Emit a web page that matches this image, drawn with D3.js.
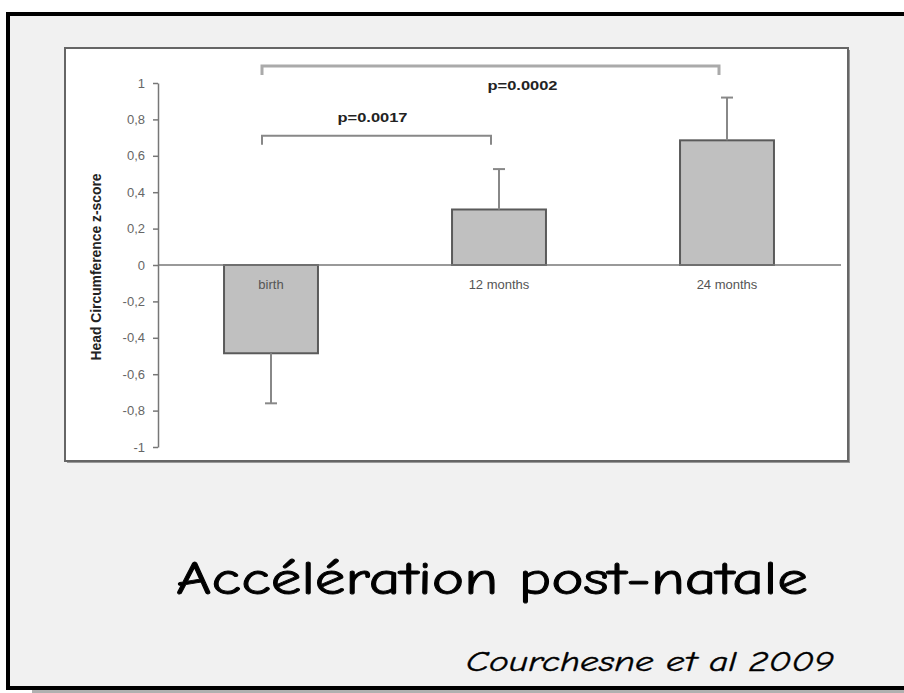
<!DOCTYPE html>
<html>
<head>
<meta charset="utf-8">
<script src="https://cdn.jsdelivr.net/npm/d3@7"></script>
<style>
  body { margin: 0; background: #fff; }
  svg { display: block; }
</style>
</head>
<body>
<svg class="chart" width="904" height="693"></svg>
<script>
// data
var categories = ["birth", "12 months", "24 months"];
var meanZ = [-0.485, 0.305, 0.685];
var errZ = [-0.275, 0.222, 0.235];   // signed, the side the whisker is drawn on
var yTicks = [1, 0.8, 0.6, 0.4, 0.2, 0, -0.2, -0.4, -0.6, -0.8, -1];
var pLabels = ["p=0.0017", "p=0.0002"];
var pFrom = [0, 0];
var pTo = [1, 2];
var pLevel = [0.71, 1.093];

var svg = d3.select("svg.chart");

// slide frame
svg.append("rect").attr("x", 32).attr("y", 688).attr("width", 880).attr("height", 5).attr("fill", "#b0b0b0");
svg.append("rect")
  .attr("x", 8).attr("y", 14).attr("width", 910).attr("height", 674)
  .attr("fill", "#f1f1f1").attr("stroke", "#000").attr("stroke-width", 4);

// chart box
svg.append("rect").attr("x", 67).attr("y", 50).attr("width", 783).attr("height", 413).attr("fill", "#9a9a9a");
svg.append("rect")
  .attr("x", 65).attr("y", 48).attr("width", 783).attr("height", 413)
  .attr("fill", "#fff").attr("stroke", "#666").attr("stroke-width", 2);

var y = d3.scaleLinear().domain([-1, 1]).range([447, 83]);
var x = d3.scaleBand().domain(categories).range([157, 841])
  .paddingInner(0.588).paddingOuter(0.294);

var fr = d3.formatLocale({decimal: ",", thousands: ".", grouping: [3], currency: ["", ""], minus: "-"});
var fmt = fr.format("~g");

var yAxis = svg.append("g")
  .attr("transform", "translate(158,0)")
  .call(d3.axisLeft(y).tickValues(yTicks).tickSize(5).tickSizeOuter(0).tickPadding(8).tickFormat(fmt));
yAxis.select(".domain").attr("stroke", "#777").attr("stroke-width", 1.5);
yAxis.selectAll(".tick line").attr("stroke", "#777").attr("stroke-width", 1.5);
yAxis.selectAll(".tick text")
  .attr("fill", "#666")
  .style("font-family", "'Liberation Sans', Arial, sans-serif")
  .style("font-size", "13px");

svg.append("text")
  .attr("transform", "translate(101,267) rotate(-90)")
  .attr("text-anchor", "middle")
  .attr("textLength", 187).attr("lengthAdjust", "spacingAndGlyphs")
  .attr("fill", "#222")
  .style("font-family", "'Liberation Sans Narrow', 'Liberation Sans', Arial, sans-serif")
  .style("font-size", "14px").style("font-weight", "bold")
  .text("Head Circumference z-score");

// bars
var bars = svg.append("g");
bars.selectAll("rect")
  .data(categories)
  .enter().append("rect")
  .attr("x", function(d) { return x(d); })
  .attr("width", x.bandwidth())
  .attr("y", function(d, i) { return y(Math.max(0, meanZ[i])); })
  .attr("height", function(d, i) { return Math.abs(y(meanZ[i]) - y(0)); })
  .attr("fill", "#c0c0c0")
  .attr("stroke", "#5a5a5a")
  .attr("stroke-width", 2);

// zero line
svg.append("line")
  .attr("x1", 158).attr("x2", 841)
  .attr("y1", y(0)).attr("y2", y(0))
  .attr("stroke", "#777").attr("stroke-width", 1.5);

// error whiskers
var cx = function(i) { return x(categories[i]) + x.bandwidth() / 2; };
var err = svg.append("g").attr("stroke", "#888").attr("stroke-width", 2);
categories.forEach(function(d, i) {
  var end = meanZ[i] + errZ[i];
  err.append("line").attr("x1", cx(i)).attr("x2", cx(i))
    .attr("y1", y(meanZ[i])).attr("y2", y(end));
  err.append("line").attr("x1", cx(i) - 6).attr("x2", cx(i) + 6)
    .attr("y1", y(end)).attr("y2", y(end));
});

// category labels sit just under the zero line
svg.append("g").selectAll("text")
  .data(categories)
  .enter().append("text")
  .attr("x", function(d, i) { return cx(i); })
  .attr("y", y(0) + 24)
  .attr("text-anchor", "middle")
  .attr("fill", "#555")
  .style("font-family", "'Liberation Sans', Arial, sans-serif")
  .style("font-size", "13px")
  .text(function(d) { return d; });

// significance brackets
var labelShift = [[-4, -18], [32, 20]];
pLabels.forEach(function(lab, i) {
  var x1 = cx(pFrom[i]) - 9, x2 = cx(pTo[i]) - 8, yy = y(pLevel[i]);
  svg.append("path")
    .attr("d", "M" + x1 + "," + (yy + 9) + "V" + yy + "H" + x2 + "V" + (yy + 9))
    .attr("fill", "none")
    .attr("stroke", i == 1 ? "#aaa" : "#888")
    .attr("stroke-width", i == 1 ? 3 : 2);
  svg.append("text")
    .attr("x", (x1 + x2) / 2 + labelShift[i][0])
    .attr("y", yy + labelShift[i][1])
    .attr("text-anchor", "middle")
    .attr("dy", "0.35em")
    .attr("textLength", 70).attr("lengthAdjust", "spacingAndGlyphs")
    .attr("fill", "#222")
    .style("font-family", "'Liberation Sans', Arial, sans-serif")
    .style("font-size", "12px").style("font-weight", "bold")
    .text(lab);
});

// slide title and citation
svg.append("text")
  .attr("x", 176).attr("y", 594)
  .attr("textLength", 632).attr("lengthAdjust", "spacingAndGlyphs")
  .attr("fill", "#000").attr("stroke", "#000").attr("stroke-width", 0.9)
  .style("font-family", "'Comic Sans MS', 'Comic Neue', 'DejaVu Sans', sans-serif")
  .style("font-size", "46px")
  .text("Accélération post-natale");

svg.append("text")
  .attr("x", 466).attr("y", 671)
  .attr("textLength", 368).attr("lengthAdjust", "spacingAndGlyphs")
  .attr("fill", "#000").attr("stroke", "#000").attr("stroke-width", 0.4)
  .style("font-family", "'Comic Sans MS', 'Comic Neue', 'DejaVu Sans', sans-serif")
  .style("font-size", "29px").style("font-style", "italic")
  .text("Courchesne et al 2009");
</script>
</body>
</html>
